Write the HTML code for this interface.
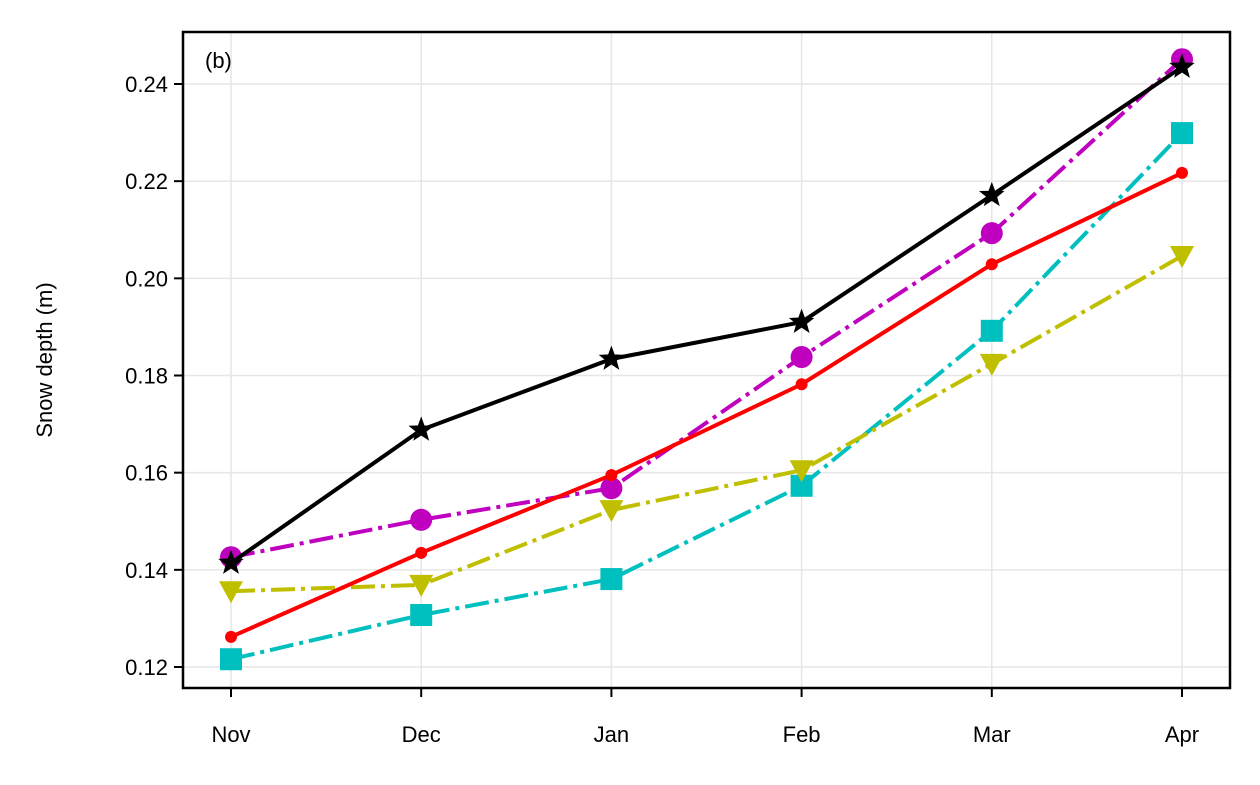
<!DOCTYPE html>
<html><head><meta charset="utf-8"><style>
body{margin:0;background:#fff;}
text{font-family:"Liberation Sans","DejaVu Sans",sans-serif;fill:#000;}
</style></head><body>
<svg id="chart" width="1260" height="780" xmlns="http://www.w3.org/2000/svg">
<rect width="1260" height="780" fill="#fff"/>
<g id="grid"></g>
<g id="series"></g>
<rect x="183" y="32" width="1047" height="656" fill="none" stroke="#000" stroke-width="2.5"/>
<g id="axes"></g>
<text x="205" y="68" font-size="22">(b)</text>
<text transform="translate(52,360) rotate(-90)" text-anchor="middle" font-size="22">Snow depth (m)</text>
</svg>
<script>
const months=["Nov","Dec","Jan","Feb","Mar","Apr"];
const yTicks=[0.12,0.14,0.16,0.18,0.20,0.22,0.24];
const magentaVals=[0.1426,0.1503,0.1568,0.1838,0.2093,0.2451];
const redVals=[0.1262,0.1435,0.1595,0.1782,0.2029,0.2217];
const cyanVals=[0.1216,0.1307,0.1381,0.1573,0.1892,0.2299];
const yellowVals=[0.1356,0.1369,0.1523,0.1605,0.1824,0.2046];
const blackVals=[0.1414,0.1688,0.1834,0.1910,0.2171,0.2435];
const NS="http://www.w3.org/2000/svg";
const X=i=>231+i*(1182-231)/5;
const Y=v=>667-(v-0.12)/0.02*((667-84)/6);
function mk(tag,at,parent){const e=document.createElementNS(NS,tag);for(const k in at)e.setAttribute(k,at[k]);parent.appendChild(e);return e;}
const grid=document.getElementById('grid'),axes=document.getElementById('axes'),ser=document.getElementById('series');
months.forEach((m,i)=>{
  const g=mk('line',{x1:X(i),x2:X(i),y1:32,y2:688,stroke:'#e6e6e6','stroke-width':1.5},grid);
  
  
  const t=mk('line',{x1:X(i),x2:X(i),y1:688,y2:697,stroke:'#000','stroke-width':2},axes);
  
  
  const l=mk('text',{x:X(i),y:742,'text-anchor':'middle','font-size':22},axes);
  l.textContent=m;
  
  
});
yTicks.forEach(v=>{
  const g=mk('line',{x1:183,x2:1230,y1:Y(v),y2:Y(v),stroke:'#e6e6e6','stroke-width':1.5},grid);
  
  
  const t=mk('line',{x1:174,x2:183,y1:Y(v),y2:Y(v),stroke:'#000','stroke-width':2},axes);
  
  
  const l=mk('text',{x:168,y:Y(v)+8,'text-anchor':'end','font-size':22},axes);
  l.textContent=v.toFixed(2);
  
  
});
function marker(kind,x,y,color,g){
  let e;
  if(kind==='circle')e=mk('circle',{cx:x,cy:y,r:11,fill:color},g);
  else if(kind==='dot')e=mk('circle',{cx:x,cy:y,r:6,fill:color},g);
  else if(kind==='square')e=mk('rect',{x:x-11,y:y-11,width:22,height:22,fill:color},g);
  else if(kind==='tri')e=mk('polygon',{points:`${x-12},${y-10} ${x+12},${y-10} ${x},${y+12}`,fill:color},g);
  else{let p=[];for(let k=0;k<10;k++){const r=k%2?5:12,a=-Math.PI/2+k*Math.PI/5;p.push((x+r*Math.cos(a)).toFixed(1)+','+(y+r*Math.sin(a)).toFixed(1));}
    e=mk('polygon',{points:p.join(' '),fill:color,stroke:color,'stroke-width':1},g);}
  return e;
}
function series(name,vals,color,dash,kind){
  const g=mk('g',{},ser);
  
  
  const pl=mk('polyline',{points:vals.map((v,i)=>X(i)+','+Y(v)).join(' '),fill:'none',stroke:color,'stroke-width':4,'stroke-dasharray':dash},g);
  
  
  vals.forEach((v,i)=>{const m=marker(kind,X(i),Y(v),color,g);
    
    });
}
series('magenta-series',magentaVals,'#bf00bf','24,6,4,6','circle');
series('cyan-series',cyanVals,'#00bfbf','24,6,4,6','square');
series('yellow-series',yellowVals,'#bfbf00','24,6,4,6','tri');
series('red-series',redVals,'#ff0000','none','dot');
series('black-series',blackVals,'#000000','none','star');
</script>
</body></html>
